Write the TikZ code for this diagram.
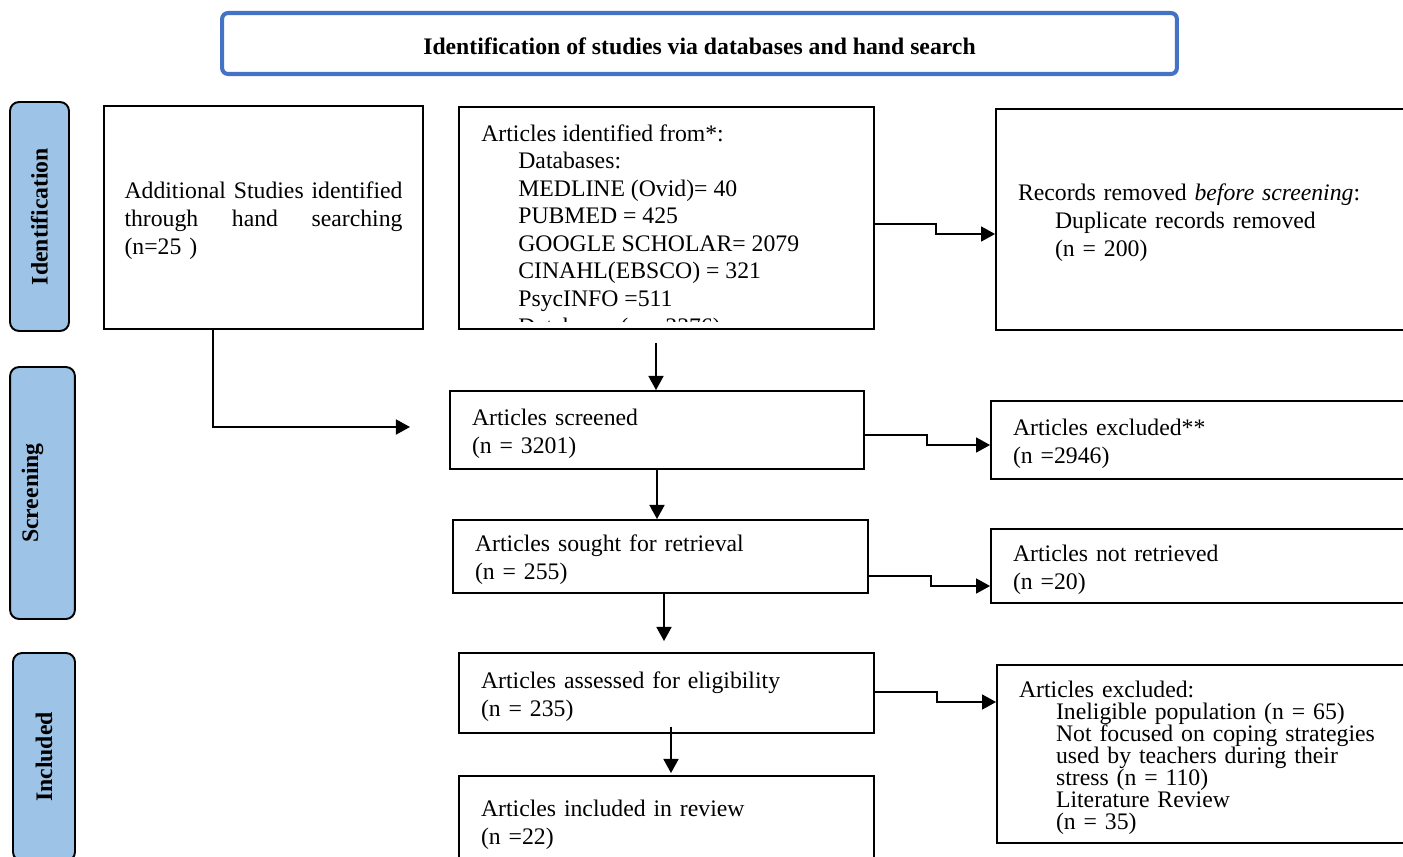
\documentclass[tikz,border=0pt]{standalone}
\usepackage{fontspec}
\setmainfont{Liberation Serif}
\usetikzlibrary{arrows.meta, calc}
\definecolor{headblue}{RGB}{68,114,196}
\definecolor{phaseblue}{RGB}{157,195,230}
\newcommand{\ind}{\hspace*{0.74cm}}

\begin{document}
\begin{tikzpicture}[x = 0.02cm, y = -0.02cm,
	font = \fontsize{13.5}{15.9}\selectfont,
	box/.style = {draw, line width = 1.1pt, inner xsep = 0.44cm, inner ysep = 0pt, align = left,
		execute at begin node = {\rule{0pt}{13.6pt}}},
	phase/.style = {draw, line width = 1.1pt, fill = phaseblue, rounded corners = 0.18cm, rotate = 90,
		font = \fontsize{13.5}{15.9}\selectfont\bfseries},
	arr/.style = {line width = 1.1pt, -{Triangle[length = 8pt, width = 8.5pt]}}]

\useasboundingbox (0, 0) rectangle (1403, 856);
\clip (0, 0) rectangle (1403, 856);

% title and phases
\node[draw = headblue, line width = 2.3pt, rounded corners = 0.12cm,
	minimum width = 19.1cm, minimum height = 1.22cm, text height = 12.6pt, text depth = 0pt,
	font = \fontsize{13.5}{15.9}\selectfont\bfseries] (TT) at (699.5, 43.5)
	{Identification of studies via databases and hand search};

\node[phase, minimum width = 4.58cm, minimum height = 1.18cm] (PI) at (39.5, 216.5) {Identification};
\node[phase, minimum width = 5.04cm, inner ysep = 0pt, text height = 15.9pt, text depth = 21pt] (PS) at (42.5, 493) {Screening};
\node[phase, minimum width = 4.16cm, minimum height = 1.24cm] (PN) at (44, 757) {Included};

% identification
\node[box, text width = 5.56cm, inner xsep = 0.41cm, minimum height = 4.46cm] (AS) at (263.5, 217.5)
	{\makebox[\linewidth][s]{Additional Studies identified}\\
	\makebox[\linewidth][s]{through\hfill hand\hfill searching}\\ (n=25 )};

\node[draw, line width = 1.1pt, minimum width = 8.3cm, minimum height = 4.44cm] (DB) at (666.5, 218) {};
\begin{scope}
	\clip (DB.north west) rectangle ($(DB.south east) + (0, -8)$);
	\node[anchor = north west, inner sep = 0pt, align = left, font = \fontsize{13.5}{15.7}\selectfont] (DT) at (481, 124)
		{Articles identified from*:\\ \ind Databases:\\ \ind MEDLINE (Ovid)= 40\\ \ind PUBMED = 425\\
		\ind GOOGLE SCHOLAR= 2079\\ \ind CINAHL(EBSCO) = 321\\ \ind PsycINFO =511\\ \ind Databases (n = 3376)};
\end{scope}

\node[box, text width = 7.60cm, minimum height = 4.42cm] (RR) at (1208, 219.5)
	{Records removed \textit{before screening}:\\ \ind Duplicate records removed\\ \ind (n = 200)};

% screening
\node[box, text width = 7.40cm, minimum height = 1.56cm] (SC) at (657, 430) {Articles screened\\ (n = 3201)};
\node[box, text width = 7.70cm, minimum height = 1.56cm] (EX) at (1205.5, 440) {Articles excluded**\\ (n =2946)};
\node[box, text width = 7.42cm, minimum height = 1.46cm] (SR) at (660.5, 556.5) {Articles sought for retrieval\\ (n = 255)};
\node[box, text width = 7.70cm, minimum height = 1.48cm] (NR) at (1205.5, 566) {Articles not retrieved\\ (n =20)};

% included
\node[box, text width = 7.42cm, minimum height = 1.60cm] (AE) at (666.5, 693) {Articles assessed for eligibility\\ (n = 235)};
\node[box, text width = 7.58cm, minimum height = 3.56cm, font = \fontsize{13.5}{12.5}\selectfont] (EE) at (1208.5, 754)
	{Articles excluded:\\ \ind Ineligible population (n = 65)\\ \ind Not focused on coping strategies\\
	\ind used by teachers during their\\ \ind stress (n = 110)\\ \ind Literature Review\\ \ind (n = 35)};
\node[box, text width = 7.42cm, minimum height = 1.80cm, font = \fontsize{13.5}{16.4}\selectfont] (IN) at (666.5, 821)
	{Articles included in review\\ (n =22)};

% connectors
\coordinate (AX) at (410, 427);
\draw[arr] ($(AS.south west) + (110, 0)$) |- (AX);
\draw[arr] ($(SC.north |- DB.south) + (-1, 13)$) -- ($(SC.north) + (-1, 0)$);
\draw[arr] ($(DB.east) + (0, 6)$) -- ++(61, 0) |- ($(RR.west) + (0, 14.5)$);
\draw[arr] ($(SC.east) + (0, 5)$) -- ++(62, 0) |- ($(EX.west) + (0, 5)$);
\draw[arr] (SC.south) -- (SC.south |- SR.north);
\draw[arr] ($(SR.east) + (0, 19.5)$) -- ++(62, 0) |- ($(NR.west) + (0, 20)$);
\draw[arr] ($(SR.south) + (3.5, 0)$) -- ($(SR.south |- AE.north) + (3.5, -11)$);
\draw[arr] ($(AE.east) + (0, -1)$) -- ++(62, 0) |- ($(EE.west) + (0, -52)$);
\draw[arr] ($(AE.south) + (4.5, -7)$) -- ($(IN.north) + (4.5, -2)$);

\end{tikzpicture}
\end{document}
